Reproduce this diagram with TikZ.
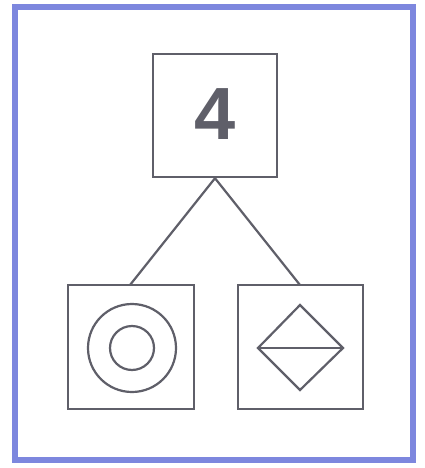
\documentclass[tikz,border=0pt]{standalone}
\usepackage{fontspec}
\setmainfont{Liberation Sans}
\definecolor{frameblue}{RGB}{125,135,222}
\definecolor{ink}{RGB}{95,95,105}
\tikzset{
  boxstyle/.style={draw=ink, line width=2.4pt, minimum width=124pt, minimum height=124pt, inner sep=0pt, fill=white},
  inkline/.style={draw=ink, line width=2.2pt},
}
\begin{document}
\begin{tikzpicture}[x=1pt,y=-1pt]
\useasboundingbox (0,0) rectangle (424,468);
\fill[white] (0,0) rectangle (424,468);
\draw[frameblue, line width=6pt] (15,7) rectangle (413,460);
\node[boxstyle, minimum width=124pt, minimum height=123pt] (top) at (215,115.5) {};
\node[text=ink, font=\fontsize{74}{80}\selectfont\bfseries] (four) at (215,114) {4};
\node[boxstyle, minimum width=126pt] (left) at (131,347) {};
\node[boxstyle, minimum width=125pt] (right) at (300.5,347) {};
\coordinate (lt) at (130,285);
\coordinate (rt) at (300,285);
\draw[inkline] (top.south) -- (lt);
\draw[inkline] (top.south) -- (rt);
\draw[inkline] (132,348) circle (44);
\draw[inkline] (132,348) circle (22);
\draw[inkline] (300,305) -- (343,348) -- (300,390) -- (258,348) -- cycle;
\draw[inkline] (258,348) -- (343,348);
\end{tikzpicture}
\end{document}
